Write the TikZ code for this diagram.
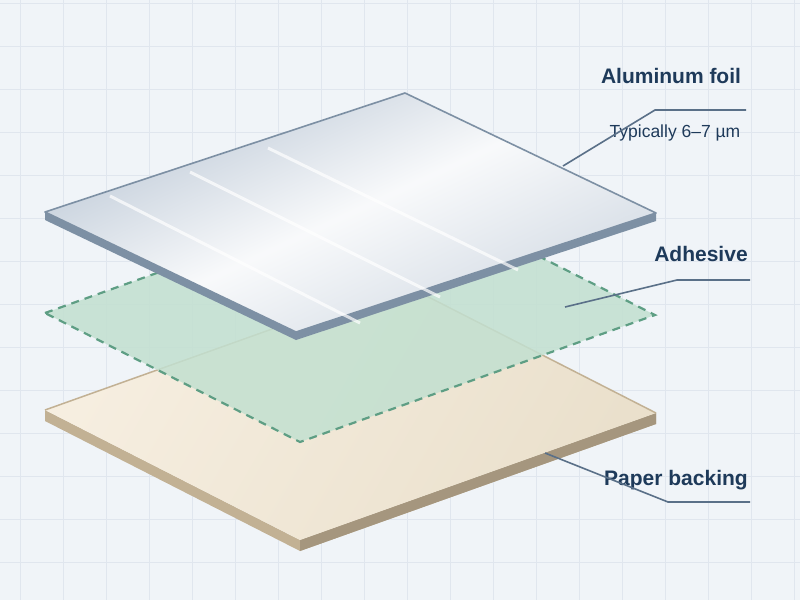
\documentclass[tikz,border=0pt]{standalone}
\usepackage{fontspec}
\setmainfont{Liberation Sans}
\usetikzlibrary{positioning}
\definecolor{bg}{HTML}{F0F4F8}
\definecolor{gridc}{HTML}{E0E6EE}
\definecolor{ink}{HTML}{1E3A5A}
\definecolor{leader}{HTML}{5A7088}
\definecolor{foilEdge}{HTML}{7D90A4}
\definecolor{foilA}{HTML}{BCC8D6}
\definecolor{glueFill}{HTML}{C2E0D0}
\definecolor{glueEdge}{HTML}{5E9E84}
\definecolor{paperA}{HTML}{F6EEE0}
\definecolor{paperB}{HTML}{EAE0CC}
\definecolor{paperSide}{HTML}{C2B194}
\tikzset{
  lbl/.style={font=\bfseries\fontsize{21}{24}\selectfont, text=ink},
  sub/.style={font=\fontsize{17.5}{20}\selectfont, text=ink},
  lead/.style={leader, line width=1.6pt},
}
\begin{document}
\begin{tikzpicture}[x=1pt,y=-1pt]
  \useasboundingbox (0,0) rectangle (800,600);
  \fill[bg] (0,0) rectangle (800,600);
  %grid
  \foreach \x in {20,63,...,800}{
    \draw[gridc, line width=0.6pt] (\x,0) -- (\x,600);
  }
  \foreach \y in {3,46,...,600}{
    \draw[gridc, line width=0.6pt] (0,\y) -- (800,\y);
  }
  %paper backing
  \coordinate (pL) at (45,410);
  \coordinate (pT) at (401,283);
  \coordinate (pR) at (656,413);
  \coordinate (pB) at (300,540);
  \fill[paperSide] (pL) -- (pB) -- (pR) -- ([yshift=-11pt]pR) -- ([yshift=-11pt]pB) -- ([yshift=-11pt]pL) -- cycle;
  \fill[paperSide!85!black] (pB) -- (pR) -- ([yshift=-11pt]pR) -- ([yshift=-11pt]pB) -- cycle;
  \shade[left color=paperA, right color=paperB, shading angle=60] (pL) -- (pT) -- (pR) -- (pB) -- cycle;
  \draw[paperSide, line width=1.5pt] (pL) -- (pT) -- (pR);
  %adhesive
  \coordinate (aL) at (45,313);
  \coordinate (aT) at (400,186);
  \coordinate (aR) at (655,315);
  \coordinate (aB) at (300,442);
  \fill[glueFill, opacity=0.85] (aL) -- (aT) -- (aR) -- (aB) -- cycle;
  \draw[glueEdge, line width=2.2pt, dash pattern=on 8pt off 6pt] (aL) -- (aT) -- (aR) -- (aB) -- cycle;
  %aluminum foil
  \coordinate (fL) at (45,212);
  \coordinate (fT) at (405,93);
  \coordinate (fR) at (656,213);
  \coordinate (fB) at (296,332);
  \fill[foilEdge] (fL) -- (fB) -- (fR) -- ([yshift=-8pt]fR) -- ([yshift=-8pt]fB) -- ([yshift=-8pt]fL) -- cycle;
  \shade[top color=foilA, bottom color=foilA!70, middle color=white!90!foilA, shading angle=25]
    (fL) -- (fT) -- (fR) -- (fB) -- cycle;
  \draw[foilEdge, line width=1.6pt, line join=round] (fL) -- (fT) -- (fR) -- (fB) -- cycle;
  \foreach \s/\e in {{110,196}/{360,323}, {190,172}/{440,297}, {268,148}/{518,270}}{
    \draw[white, opacity=0.7, line width=3pt] (\s) -- (\e);
  }
  %labels
  \node[lbl] (foil) at (671,76) {Aluminum foil};
  \node[sub] (thick) at (675,133) {Typically 6–7 µm};
  \node[lbl] (glue) at (701,254) {Adhesive};
  \node[lbl] (paper) at (676,480) {Paper backing};
  \coordinate (foilEnd) at (746,110);
  \coordinate (glueEnd) at (750,280);
  \coordinate (paperEnd) at (750,502);
  \draw[lead] (563,166) -- (655,110) -- (foilEnd);
  \draw[lead] (565,307) -- (677,280) -- (glueEnd);
  \draw[lead] (545,453) -- (668,502) -- (paperEnd);
\end{tikzpicture}
\end{document}
